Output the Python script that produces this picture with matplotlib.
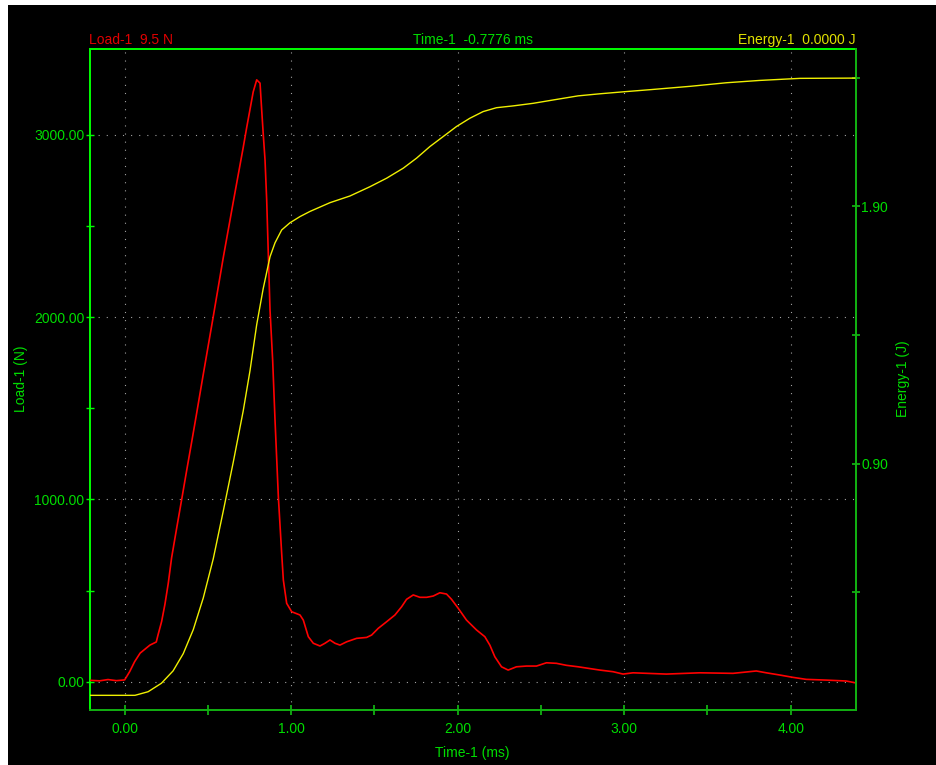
import matplotlib
matplotlib.use("Agg")
import matplotlib.pyplot as plt
from matplotlib.patches import Rectangle
from matplotlib.ticker import FixedLocator, FormatStrFormatter

# ---- data -------------------------------------------------------------
load_time = [-0.208, -0.15, -0.10, -0.05, 0.0, 0.03, 0.06, 0.093, 0.152, 0.19,
             0.20, 0.222, 0.242, 0.262, 0.282, 0.312, 0.342, 0.372, 0.402, 0.432,
             0.472, 0.532, 0.592, 0.652, 0.712, 0.733, 0.772, 0.793, 0.813, 0.823,
             0.832, 0.843, 0.853, 0.862, 0.873, 0.889, 0.903, 0.923, 0.943, 0.953,
             0.973, 1.003, 1.053, 1.073, 1.103, 1.133, 1.173, 1.203, 1.233, 1.263,
             1.293, 1.333, 1.393, 1.453, 1.483, 1.523, 1.573, 1.623, 1.663, 1.693,
             1.733, 1.773, 1.813, 1.853, 1.893, 1.933, 1.963, 2.003, 2.053, 2.113,
             2.163, 2.193, 2.223, 2.263, 2.303, 2.353, 2.413, 2.473, 2.533, 2.593,
             2.653, 2.723, 2.853, 2.933, 2.993, 3.053, 3.253, 3.453, 3.653, 3.793,
             3.853, 3.933, 4.013, 4.093, 4.213, 4.333, 4.383]
load_n = [8, 5, 12, 6, 10, 55, 110, 157, 201, 218,
          255, 330, 425, 540, 680, 840, 997, 1156, 1312, 1470,
          1685, 2002, 2325, 2630, 2930, 3040, 3235, 3301, 3283, 3136,
          3008, 2862, 2642, 2368, 2039, 1760, 1436, 1015, 704, 558,
          430, 384, 366, 338, 247, 211, 196, 211, 229, 211,
          201, 219, 238, 243, 256, 293, 329, 366, 411, 452,
          476, 463, 463, 470, 488, 481, 452, 403, 338, 284,
          247, 201, 137, 82, 64, 82, 86, 86, 104, 101,
          90, 82, 64, 55, 42, 49, 42, 49, 46, 59,
          49, 37, 24, 13, 9, 4, -5]

energy_time = [-0.208, 0.062, 0.141, 0.221, 0.291, 0.352, 0.412, 0.472, 0.532, 0.592,
               0.652, 0.712, 0.753, 0.793, 0.832, 0.873, 0.903, 0.943, 0.993, 1.053,
               1.113, 1.233, 1.353, 1.473, 1.573, 1.673, 1.753, 1.833, 1.913, 1.993,
               2.073, 2.153, 2.233, 2.333, 2.453, 2.573, 2.723, 2.853, 3.000, 3.155,
               3.395, 3.615, 3.815, 4.055, 4.385]
energy_j = [0.0, 0.0, 0.014, 0.047, 0.095, 0.162, 0.255, 0.378, 0.530, 0.715,
            0.905, 1.105, 1.262, 1.440, 1.580, 1.704, 1.758, 1.808, 1.836, 1.860,
            1.880, 1.914, 1.940, 1.976, 2.009, 2.048, 2.087, 2.132, 2.171, 2.210,
            2.242, 2.268, 2.283, 2.290, 2.300, 2.313, 2.329, 2.337, 2.345, 2.353,
            2.366, 2.380, 2.389, 2.397, 2.398]

x_major = [0, 1, 2, 3, 4]
x_minor = [0.5, 1.5, 2.5, 3.5]
load_major = [0, 1000, 2000, 3000]
load_minor = [500, 1500, 2500]
energy_major = [0.90, 1.90]
energy_minor = [0.40, 1.40, 2.40]

header_load = "Load-1  9.5 N"
header_time = "Time-1  -0.7776 ms"
header_energy = "Energy-1  0.0000 J"

# ---- style ------------------------------------------------------------
plt.rcParams['font.family'] = ['Liberation Sans', 'DejaVu Sans']
GREEN = '#00ff00'
GREEN_DARK = '#12b012'
TXT_GREEN = '#00dd00'
GRID = '#a0a0a0'

W, H = 936, 765
fig = plt.figure(figsize=(W / 100, H / 100), dpi=100, facecolor='white')
# black panel with a thin white margin on the left and top
fig.patches.append(Rectangle((8 / W, 0), 1 - 8 / W, (H - 5) / H,
                             transform=fig.transFigure, facecolor='black',
                             edgecolor='none', zorder=-10))

left, right, top, bottom = 90, 855.7, 48.5, 710
ax = fig.add_axes([left / W, 1 - bottom / H, (right - left) / W, (bottom - top) / H])
ax.set_facecolor('black')
ax2 = ax.twinx()

ax.set_xlim(-0.208, 4.39)
ax.set_ylim(-155, 3473)
ax2.set_ylim(-0.057, 2.513)

ax.plot(load_time, load_n, color='#ff0000', lw=1.2, zorder=3)
ax2.plot(energy_time, energy_j, color='#f0f000', lw=1.0, zorder=3)

# ticks
ax.xaxis.set_major_locator(FixedLocator(x_major))
ax.xaxis.set_minor_locator(FixedLocator(x_minor))
ax.yaxis.set_major_locator(FixedLocator(load_major))
ax.yaxis.set_minor_locator(FixedLocator(load_minor))
ax2.yaxis.set_major_locator(FixedLocator(energy_major))
ax2.yaxis.set_minor_locator(FixedLocator(energy_minor))
ax.xaxis.set_major_formatter(FormatStrFormatter('%.2f'))
ax.yaxis.set_major_formatter(FormatStrFormatter('%.2f'))
ax2.yaxis.set_major_formatter(FormatStrFormatter('%.2f'))

ax.tick_params(axis='x', which='both', direction='inout', length=7, width=1.3,
               color=GREEN_DARK, labelcolor=TXT_GREEN, labelsize=10, pad=5)
ax.tick_params(axis='y', which='both', direction='inout', length=6, width=1.0,
               color=GREEN, labelcolor=TXT_GREEN, labelsize=10, pad=1)
ax2.tick_params(axis='y', which='both', direction='inout', length=6, width=1.3,
                color=GREEN_DARK, labelcolor=TXT_GREEN, labelsize=10, pad=1)

# dotted grid from the load axis
ax.grid(True, which='major', color=GRID, linestyle=(0, (1, 6.3)), linewidth=0.8)
ax.set_axisbelow(True)

# frame: bright on left/top, darker on right/bottom
for name, sp in ax.spines.items():
    sp.set_linewidth(1.4)
    sp.set_color(GREEN if name in ('left', 'top') else GREEN_DARK)
for name, sp in ax2.spines.items():
    if name == 'right':
        sp.set_color(GREEN_DARK)
        sp.set_linewidth(1.4)
    else:
        sp.set_visible(False)

# header readouts
fig.text(89 / W, 1 - 40 / H, header_load, color='#e00000', fontsize=10,
         ha='left', va='center')
fig.text(473 / W, 1 - 40 / H, header_time, color=TXT_GREEN, fontsize=10,
         ha='center', va='center')
fig.text(856 / W, 1 - 40 / H, header_energy, color='#e0e000', fontsize=10,
         ha='right', va='center')

# axis titles
fig.text(472 / W, 1 - 753 / H, "Time-1 (ms)", color=TXT_GREEN, fontsize=10,
         ha='center', va='center')
fig.text(21 / W, 1 - 379 / H, "Load-1 (N)", color=TXT_GREEN, fontsize=10,
         ha='center', va='center', rotation=90)
fig.text(903 / W, 1 - 379 / H, "Energy-1 (J)", color=TXT_GREEN, fontsize=10,
         ha='center', va='center', rotation=90)

fig.savefig('out.png', dpi=100, facecolor='white')
